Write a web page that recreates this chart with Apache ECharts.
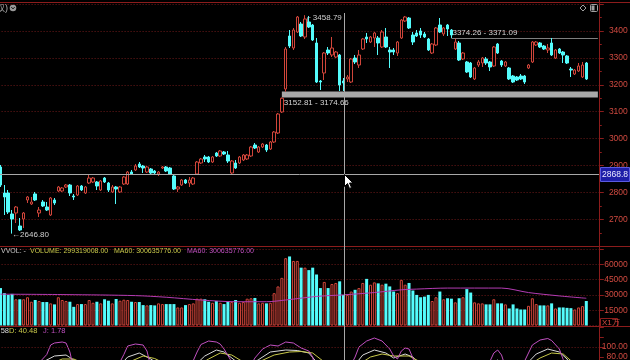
<!DOCTYPE html>
<html><head><meta charset="utf-8">
<script src="https://cdn.jsdelivr.net/npm/echarts/dist/echarts.min.js"></script>
<style>html,body{margin:0;padding:0;background:#000;}#c{width:630px;height:360px;}</style>
</head><body><div id="c"></div>
<script>
// ---------- DATA ----------
const categories = Array.from({length: 156}, (_, i) => 'D' + (i + 1));
// [open, close, low, high]
const candles = [
[2894.4,2827.5,2820.1,2901.9],[2797.8,2782.9,2716.0,2827.5],[2797.8,2727.1,2719.7,2808.9],[2719.7,2701.1,2646.8,2734.6],
[2723.4,2745.7,2686.2,2749.4],[2675.1,2660.2,2656.5,2704.8],[2701.1,2723.4,2667.7,2727.1],[2771.7,2782.9,2760.6,2786.6],
[2756.9,2764.3,2753.2,2782.9],[2794.0,2771.7,2768.0,2801.5],[2723.4,2734.6,2708.5,2745.7],[2764.3,2749.4,2745.7,2771.7],
[2745.7,2734.6,2730.9,2764.3],[2716.0,2779.2,2712.3,2782.9],[2771.7,2760.6,2753.2,2779.2],[2805.2,2820.1,2801.5,2823.8],
[2805.2,2816.4,2801.5,2820.1],[2820.1,2827.5,2816.4,2831.2],[2827.5,2797.8,2786.6,2831.2],[2786.6,2782.9,2771.7,2794.0],
[2790.3,2823.8,2786.6,2827.5],[2823.8,2808.9,2805.2,2827.5],[2797.8,2820.1,2794.0,2823.8],[2834.9,2853.5,2831.2,2864.7],
[2838.7,2853.5,2834.9,2857.2],[2838.7,2823.8,2808.9,2842.4],[2808.9,2842.4,2805.2,2846.1],[2853.5,2838.7,2834.9,2857.2],
[2834.9,2808.9,2801.5,2838.7],[2801.5,2820.1,2797.8,2827.5],[2820.1,2812.6,2756.9,2823.8],[2801.5,2820.1,2797.8,2823.8],
[2831.2,2857.2,2827.5,2861.0],[2831.2,2875.8,2827.5,2879.6],[2875.8,2868.4,2864.7,2883.3],[2883.3,2898.1,2879.6,2905.6],
[2905.6,2894.4,2890.7,2913.0],[2898.1,2890.7,2872.1,2901.9],[2875.8,2894.4,2872.1,2898.1],[2887.0,2872.1,2868.4,2890.7],
[2879.6,2872.1,2868.4,2883.3],[2868.4,2875.8,2861.0,2879.6],[2890.7,2894.4,2887.0,2898.1],[2894.4,2879.6,2875.8,2898.1],
[2890.7,2868.4,2864.7,2894.4],[2861.0,2812.6,2808.9,2864.7],[2812.6,2820.1,2801.5,2823.8],[2827.5,2846.1,2823.8,2849.8],
[2846.1,2834.9,2831.2,2849.8],[2834.9,2846.1,2820.1,2857.2],[2831.2,2853.5,2827.5,2857.2],[2868.4,2913.0,2864.7,2916.7],
[2909.3,2924.2,2905.6,2927.9],[2931.6,2924.2,2913.0,2939.0],[2931.6,2913.0,2909.3,2935.3],[2913.0,2931.6,2909.3,2935.3],
[2946.5,2935.3,2931.6,2950.2],[2935.3,2953.9,2931.6,2957.6],[2950.2,2942.7,2939.0,2953.9],[2939.0,2916.7,2909.3,2953.9],
[2872.1,2916.7,2868.4,2920.4],[2909.3,2890.7,2887.0,2920.4],[2909.3,2931.6,2905.6,2935.3],[2920.4,2939.0,2916.7,2942.7],
[2924.2,2939.0,2920.4,2942.7],[2935.3,2968.8,2931.6,2972.5],[2976.2,2965.1,2961.3,2983.6],[2950.2,2968.8,2946.5,2972.5],
[2968.8,2979.9,2965.1,2983.6],[2976.2,2957.6,2950.2,2979.9],[2961.3,2987.4,2957.6,2991.1],[2987.4,3024.5,2983.6,3028.2],
[3020.8,3091.4,3017.1,3095.2],[3098.9,3150.0,3095.2,3152.81],[3184.4,3333.1,3174.66,3340.5],[3381.4,3344.2,3336.8,3403.7],
[3336.8,3403.7,3329.4,3411.2],[3396.3,3452.0,3392.6,3455.8],[3426.0,3381.4,3377.7,3433.5],[3377.7,3444.6,3370.3,3458.79],
[3433.5,3414.9,3411.2,3455.8],[3422.3,3366.5,3362.8,3426.0],[3355.4,3210.4,3206.7,3374.0],[3214.1,3210.4,3180.7,3217.8],
[3243.9,3318.2,3217.8,3321.9],[3329.4,3318.2,3310.8,3340.5],[3310.8,3336.8,3303.3,3377.7],[3303.3,3321.9,3299.6,3325.7],
[3310.8,3199.3,3177.0,3314.5],[3214.1,3206.7,3177.0,3225.3],[3221.6,3229.0,3210.4,3236.4],[3210.4,3295.9,3206.7,3299.6],
[3299.6,3284.8,3277.3,3310.8],[3273.6,3310.8,3262.5,3329.4],[3333.1,3370.3,3329.4,3374.0],[3377.7,3370.3,3355.4,3392.6],
[3359.1,3377.7,3355.4,3381.4],[3374.0,3392.6,3340.5,3396.3],[3374.0,3355.4,3310.8,3381.4],[3340.5,3396.3,3336.8,3403.7],
[3377.7,3340.5,3336.8,3411.2],[3329.4,3321.9,3262.5,3340.5],[3329.4,3321.9,3310.8,3336.8],[3318.2,3359.1,3307.1,3362.8],
[3374.0,3440.9,3370.3,3444.6],[3437.2,3452.0,3433.5,3455.8],[3448.3,3411.2,3407.4,3452.0],[3385.1,3359.1,3348.0,3396.3],
[3392.6,3381.4,3377.7,3403.7],[3400.0,3385.1,3374.0,3411.2],[3388.8,3377.7,3374.0,3396.3],[3370.3,3329.4,3325.7,3374.0],
[3318.2,3351.7,3314.5,3355.4],[3348.0,3411.2,3344.2,3414.9],[3422.3,3396.3,3392.6,3448.3],[3388.8,3411.2,3381.4,3414.9],
[3422.3,3407.4,3381.4,3426.0],[3403.7,3385.1,3374.26,3407.4],[3333.1,3359.1,3329.4,3371.09],[3355.4,3292.2,3288.5,3362.8],
[3295.9,3318.2,3292.2,3321.9],[3284.8,3247.6,3243.9,3288.5],[3281.0,3229.0,3225.3,3284.8],[3221.6,3262.5,3217.8,3266.2],
[3273.6,3284.8,3266.2,3292.2],[3281.0,3299.6,3266.2,3303.3],[3295.9,3281.0,3273.6,3303.3],[3284.8,3266.2,3251.3,3288.5],
[3269.9,3340.5,3266.2,3344.2],[3351.7,3318.2,3314.5,3355.4],[3288.5,3273.6,3266.2,3292.2],[3269.9,3284.8,3266.2,3288.5],
[3262.5,3221.6,3217.8,3266.2],[3232.7,3210.4,3206.7,3236.4],[3229.0,3217.8,3214.1,3232.7],[3232.7,3221.6,3217.8,3240.2],
[3232.7,3210.4,3203.0,3236.4],[3262.5,3273.6,3258.7,3277.3],[3284.8,3359.1,3281.0,3362.8],[3348.0,3359.1,3344.2,3362.8],
[3355.4,3340.5,3336.8,3359.1],[3344.2,3333.1,3329.4,3348.0],[3329.4,3336.8,3318.2,3351.7],[3355.4,3310.8,3307.1,3374.0],
[3299.6,3329.4,3295.9,3333.1],[3333.1,3318.2,3314.5,3336.8],[3321.9,3310.8,3281.0,3325.7],[3307.1,3281.0,3277.3,3310.8],
[3258.7,3255.0,3229.0,3266.2],[3240.2,3255.0,3236.4,3258.7],[3251.3,3269.9,3247.6,3281.0],[3229.0,3273.6,3225.3,3284.8],
[3281.0,3221.6,3217.8,3284.8]
];
// volume in 万 (x10k)
const volumes = [
36700,31700,30000,31000,25700,25700,25700,27700,23300,25000,24000,23000,23000,21700,20700,27700,25000,24000,23300,18300,
21000,21000,21000,25000,22300,23300,21700,25700,24300,21700,26000,24300,25300,25000,23300,23000,23000,20000,19700,20000,
19700,21700,21000,21000,21000,21000,17700,17700,20000,21000,21700,26300,26300,25700,23300,22300,24000,22300,21000,23700,
23000,25000,22300,23000,26300,26700,27000,21700,22300,21700,22300,31700,38300,46700,66000,67700,63300,63300,56700,56700,
54300,56700,50000,36700,42700,36700,40700,41700,43300,29932,30000,33300,35000,36700,41700,45700,40000,42300,41300,40000,
41000,38300,33300,31700,44700,40000,41700,34300,30000,27700,28300,30000,24000,27700,33300,25700,26700,26300,22700,26700,
27700,35700,32300,22700,21700,21700,20700,20700,25700,21700,21700,20700,16700,20700,16700,15700,15700,19300,26700,21000,
19700,19700,19700,21700,16700,17700,17700,17300,17000,15700,17700,19000,24000
];
// volume MA60: [index, value]
const volMA60 = [[0,30700],[17,30300],[35,29300],[43,27700],[52,25000],[61,23300],[69,23300],[74,25000],[82,28500],
[89,30064],[97,32300],[104,35000],[108,35700],[116,36700],[130,36700],[137,32300],[145,29000],[152,26700]];
// KDJ (only the upper part of the panel is visible)
const kdjK = [[0,40],[8,50],[11,70],[14,82],[17,84],[19,74],[22,55],[30,55],[33,80],[36,88],[39,76],[44,50],[50,60],[53,82],
[56,94],[58,90],[61,72],[64,60],[67,75],[70,90],[74,94],[77,93],[80,88],[82,70],[86,40],[91,55],[94,84],[97,94],[100,88],
[102,78],[105,86],[107,80],[110,55],[120,35],[126,55],[129,74],[132,60],[136,62],[139,86],[142,96],[145,90],[147,76],[150,40],[152,27.58]];
const kdjD = [[0,45],[10,50],[13,66],[16,76],[19,76],[23,62],[31,58],[34,72],[37,82],[40,77],[45,58],[51,62],[54,76],[57,88],
[60,84],[63,70],[67,70],[71,84],[75,90],[78,91],[81,88],[84,70],[89,50],[93,65],[96,80],[99,86],[102,82],[106,82],[109,70],
[118,45],[127,48],[131,62],[136,58],[140,78],[143,88],[146,86],[149,66],[152,40.48]];
const kdjJ = [[0,30],[6,35],[9,60],[12,85],[13,104],[14,108],[16,110],[17,108],[18,90],[19,55],[24,40],[30,55],[32,85],[33,102],
[35,106],[37,104],[38,92],[39,60],[44,30],[49,55],[51,90],[52,105],[54,112],[56,110],[57,106],[58,96],[60,70],[62,45],[64,50],
[66,78],[68,96],[70,104],[72,102],[74,110],[76,108],[78,98],[80,92],[81,80],[82,40],[86,20],[90,50],[92,80],[93,100],[95,112],
[97,118],[99,112],[101,96],[102,82],[103,76],[104,92],[105,98],[106,96],[107,78],[108,55],[115,30],[122,20],[126,55],[128,88],
[129,94],[130,84],[131,60],[134,40],[136,72],[138,104],[140,114],[142,117],[143,113],[145,96],[146,75],[148,40],[152,1.78]];
const gapBands = [
  {start: 73, low: 3152.81, high: 3174.66, text: '3152.81 - 3174.66', below: true},
  {start: 117, low: 3371.09, high: 3374.26, text: '3374.26 - 3371.09', below: false}
];
const extremes = [
  {index: 3, value: 2646.80, text: '\u21902646.80'},
  {index: 79, value: 3458.79, text: '\u250C 3458.79'}
];
const crosshairIndex = 89, crosshairPrice = 2868.8;
const volumeLabel = {vol: 'VOLUME: 299319008.00', ma: 'MA60: 300635776.00'};
const kdjLabel = {k: 'K: 27.58', d: 'D: 40.48', j: 'J: 1.78'};

// ---------- STYLE ----------
const RED = '#d0453a', CYAN = '#54fcfc', GRID_RED = '#6e1a1a', AXIS_RED = '#8c1c1c', LABEL_RED = '#d04a40';
const YEL = '#c8c84a', MAG = '#c050c0', FONT = '"Liberation Sans", Arial, sans-serif';
const G = {left: -1.4, right: 30.2, containLabel: false, outerBoundsMode: 'none'};

const volData = volumes.map((v, i) => {
  const up = candles[i][1] >= candles[i][0];
  return {value: v, itemStyle: up ? {color: '#000', borderColor: RED, borderWidth: 1} : {color: CYAN, borderColor: CYAN, borderWidth: 0}};
});

function yAxisCommon(extra) {
  return Object.assign({
    type: 'value', position: 'right',
    axisLine: {show: false},
    axisTick: {show: true, length: 4, lineStyle: {color: AXIS_RED}},
    minorTick: {show: true, splitNumber: 2, length: 2, lineStyle: {color: AXIS_RED}},
    splitLine: {show: true, lineStyle: {color: GRID_RED, type: [1, 2], width: 1}},
    axisLabel: {color: LABEL_RED, fontSize: 8.5, fontFamily: FONT, align: 'right', margin: 28}
  }, extra);
}

const option = {
  backgroundColor: '#000',
  animation: false,
  grid: [
    Object.assign({top: 4.1, height: 242.1}, G),
    Object.assign({top: 249, height: 76.5}, G),
    Object.assign({top: 327, height: 40}, G)
  ],
  xAxis: [0, 1, 2].map(k => ({type: 'category', gridIndex: k, data: categories, boundaryGap: true, show: false})),
  yAxis: [
    yAxisCommon({gridIndex: 0, min: 2600, max: 3500, interval: 100,
      axisLabel: {color: LABEL_RED, fontSize: 8.5, fontFamily: FONT, align: 'right', margin: 28,
        formatter: v => (v >= 2700 && v <= 3400) ? String(v) : ''}}),
    yAxisCommon({gridIndex: 1, min: 0, max: 75000, interval: 15000, minorTick: {show: false},
      axisLabel: {color: LABEL_RED, fontSize: 8.5, fontFamily: FONT, align: 'right', margin: 28,
        formatter: v => (v >= 15000 && v <= 60000) ? String(v) : ''}}),
    yAxisCommon({gridIndex: 2, min: 60, max: 140, interval: 20, splitLine: {show: false}, minorTick: {show: false},
      axisLabel: {color: LABEL_RED, fontSize: 8.5, fontFamily: FONT, align: 'right', margin: 28,
        formatter: v => v === 100 ? '100.00' : (v === 80 ? '80.00' : '')}})
  ],
  series: [
    {
      type: 'candlestick', xAxisIndex: 0, yAxisIndex: 0, data: candles, barWidth: 3,
      itemStyle: {color: '#000', color0: CYAN, borderColor: RED, borderColor0: CYAN, borderWidth: 1},
      markArea: {
        silent: true,
        itemStyle: {color: '#a8a8a8'},
        data: gapBands.map(b => [
          {coord: [b.start, b.low], label: {show: true, formatter: b.text, position: b.below ? [2, 7] : [1, -9],
            color: '#d4d4d4', fontSize: 8, fontFamily: FONT}},
          {coord: [155, b.high]}
        ])
      },
      markPoint: {
        silent: true, symbol: 'circle', symbolSize: 0,
        label: {show: true, position: 'right', distance: 0, color: '#d0d0d0', fontSize: 8, fontFamily: FONT},
        data: extremes.map((e, k) => ({coord: [e.index, e.value], value: e.value,
          label: {formatter: e.text, offset: k === 0 ? [0, 1] : [0, 3]}}))
      }
    },
    {type: 'bar', xAxisIndex: 1, yAxisIndex: 1, data: volData, barWidth: 3},
    {type: 'line', xAxisIndex: 1, yAxisIndex: 1, data: volMA60, showSymbol: false, smooth: 0.3,
      lineStyle: {color: '#b43cb4', width: 1}},
    {type: 'line', xAxisIndex: 2, yAxisIndex: 2, data: kdjK, showSymbol: false, lineStyle: {color: '#d8d8d8', width: 1}},
    {type: 'line', xAxisIndex: 2, yAxisIndex: 2, data: kdjD, showSymbol: false, lineStyle: {color: YEL, width: 1}},
    {type: 'line', xAxisIndex: 2, yAxisIndex: 2, data: kdjJ, showSymbol: false, lineStyle: {color: MAG, width: 1},
      markLine: {silent: true, symbol: 'none', label: {show: false},
        lineStyle: {color: GRID_RED, type: [1, 2], width: 1}, data: [{yAxis: 100}]}}
  ]
};

const chart = echarts.init(document.getElementById('c'), null, {renderer: 'canvas'});
chart.setOption(option);

function ln(x1, y1, x2, y2, color, w, z) {
  return {type: 'line', silent: true, z: z || 50, shape: {x1, y1, x2, y2}, style: {stroke: color, lineWidth: w || 1}};
}
function tx(x, y, t, color, size, align, z) {
  return {type: 'text', silent: true, z: z || 60, x, y,
    style: {text: t, fill: color, font: size + 'px ' + FONT, textAlign: align || 'left', align: align || 'left',
      textVerticalAlign: 'middle', verticalAlign: 'middle'}};
}
const cx = Math.round(chart.convertToPixel({xAxisIndex: 0}, crosshairIndex)) + 0.5;
const cy = Math.round(chart.convertToPixel({yAxisIndex: 0}, crosshairPrice)) + 0.5;

const graphics = [
  // panel frames
  ln(0, 2.5, 630, 2.5, AXIS_RED, 1),
  ln(0, 246.5, 630, 246.5, AXIS_RED, 1),
  ln(0, 326.5, 630, 326.5, AXIS_RED, 1),
  ln(599.5, 0, 599.5, 360, AXIS_RED, 1),
  // top-left title fragment + icon
  tx(-13, 8.5, '复权)', '#b0b0b0', 9),
  {type: 'circle', silent: true, z: 60, shape: {cx: 13, cy: 8, r: 3.3}, style: {fill: '#9a9a9a'}},
  {type: 'polyline', silent: true, z: 61, shape: {points: [[11.4, 7.2], [13, 8.8], [14.6, 7.2]]}, style: {stroke: '#000', lineWidth: 1, fill: null}},
  // top-right icons
  {type: 'polygon', silent: true, z: 60, shape: {points: [[583, 5], [586, 8], [583, 11], [580, 8]]}, style: {stroke: '#a0a0a0', fill: null, lineWidth: 1}},
  {type: 'rect', silent: true, z: 60, shape: {x: 590.5, y: 4.5, width: 7, height: 7, r: 1}, style: {stroke: '#a0a0a0', fill: null, lineWidth: 1}},
  {type: 'rect', silent: true, z: 60, shape: {x: 591.5, y: 5.5, width: 3, height: 5}, style: {fill: '#a0a0a0'}},
  // volume panel label
  tx(1, 251, 'VVOL: -', '#c8c8c8', 7),
  tx(30, 251, volumeLabel.vol, YEL, 7),
  tx(114, 251, volumeLabel.ma, YEL, 7),
  tx(187, 251, volumeLabel.ma, MAG, 7),
  // volume unit box
  {type: 'rect', silent: true, z: 60, shape: {x: 600.5, y: 318.5, width: 17, height: 8}, style: {stroke: AXIS_RED, fill: '#000', lineWidth: 1}},
  tx(602, 322.5, 'X1万', LABEL_RED, 8),
  // KDJ label
  tx(9, 331, kdjLabel.k, '#d8d8d8', 7.5, 'right'),
  tx(9, 331, kdjLabel.d, YEL, 7.5),
  tx(43, 331, kdjLabel.j, MAG, 7.5),
  // crosshair
  ln(cx, 13, cx, 360, '#a8a8a8', 1, 70),
  ln(0, cy, 599, cy, '#a8a8a8', 1, 70),
  {type: 'rect', silent: true, z: 80, shape: {x: 600.5, y: cy - 7, width: 29, height: 14}, style: {fill: '#1e1ea8', stroke: '#5a5ae0', lineWidth: 1}},
  tx(602, cy, crosshairPrice.toFixed(1), '#e8e8ff', 8.5, 'left', 85),
  // mouse cursor
  {type: 'polygon', silent: true, z: 90, shape: {points: [[cx, cy], [cx, cy + 12], [cx + 3, cy + 9], [cx + 5, cy + 14], [cx + 7, cy + 13], [cx + 5, cy + 8.5], [cx + 8.5, cy + 8.5]]},
    style: {fill: '#fff', stroke: '#000', lineWidth: 1}}
];
chart.setOption({graphic: graphics});
</script>
</body></html>
